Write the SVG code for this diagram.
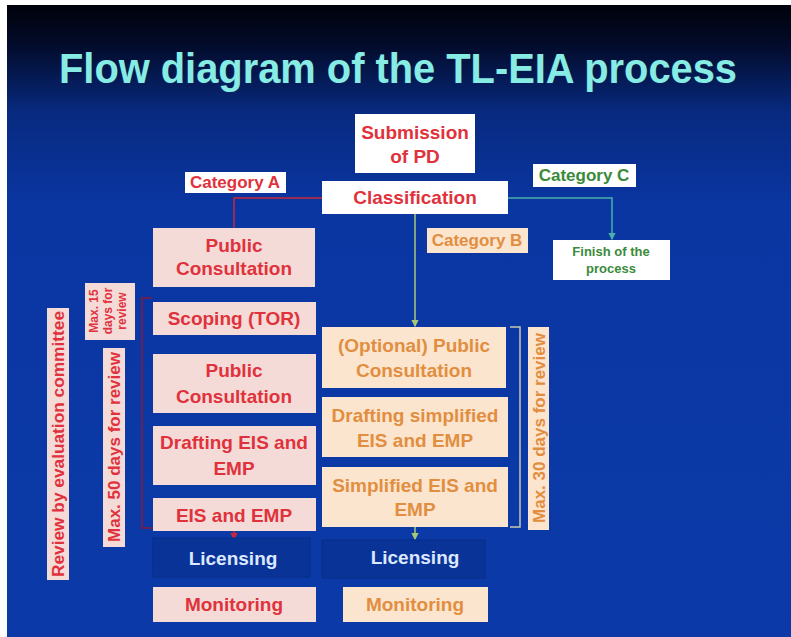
<svg xmlns="http://www.w3.org/2000/svg" width="791" height="637" viewBox="0 0 791 637">
  <defs>
    <linearGradient id="bg" x1="0" y1="0" x2="0" y2="1">
      <stop offset="0" stop-color="#00020a"/>
      <stop offset="0.06" stop-color="#020a28"/>
      <stop offset="0.17" stop-color="#082a80"/>
      <stop offset="0.32" stop-color="#0a36a2"/>
      <stop offset="1" stop-color="#0b3aa8"/>
    </linearGradient>
    <marker id="arrRed" viewBox="0 0 6 6" refX="5" refY="3" markerWidth="5" markerHeight="5" orient="auto">
      <path d="M0,0 L6,3 L0,6 z" fill="#c8283a"/>
    </marker>
    <marker id="arrTeal" viewBox="0 0 6 6" refX="5" refY="3" markerWidth="5" markerHeight="5" orient="auto">
      <path d="M0,0 L6,3 L0,6 z" fill="#48b0a8"/>
    </marker>
    <marker id="arrGreen" viewBox="0 0 6 6" refX="5" refY="3" markerWidth="5" markerHeight="5" orient="auto">
      <path d="M0,0 L6,3 L0,6 z" fill="#a8c878"/>
    </marker>
  </defs>
  <style>
    text { font-family: "Liberation Sans", Arial, sans-serif; font-weight: bold; text-anchor: middle; }
    .title { font-size: 43px; fill: #86ece4; }
    .white { fill: #ffffff; }
    .pink { fill: #f4dbd8; }
    .cream { fill: #fbe5cf; }
    .dark { fill: #0a3398; stroke: #092d86; stroke-width: 1; }
    .red { fill: #e0323c; font-size: 19px; }
    .orange { fill: #e28e40; font-size: 19px; }
    .green { fill: #3a8a3a; }
    .lic { fill: #dce8ff; font-size: 19px; }
    .lab { font-size: 17px; }
    .vert { font-size: 17px; }
    .small { font-size: 12px; }
    .conn { fill: none; stroke-width: 1.5; }
  </style>

  <!-- page frame and background -->
  <rect x="0" y="0" width="791" height="637" fill="#ffffff"/>
  <rect x="7" y="5" width="784" height="632" fill="url(#bg)"/>

  <text class="title" x="398" y="83" textLength="678" lengthAdjust="spacingAndGlyphs">Flow diagram of the TL-EIA process</text>

  <!-- connectors -->
  <g id="connectors">
    <path class="conn" d="M322,198 H234 V228" stroke="#c8283a"/>
    <path class="conn" d="M508,198 H612 V239" stroke="#48b0a8" marker-end="url(#arrTeal)"/>
    <path class="conn" d="M415,214 V326" stroke="#a8c878" marker-end="url(#arrGreen)"/>
    <path class="conn" d="M234,531 V539" stroke="#c8283a" marker-end="url(#arrRed)"/>
    <path class="conn" d="M415,527 V539" stroke="#a8c878" marker-end="url(#arrGreen)"/>
    <!-- review brackets -->
    <path class="conn" d="M152,298 H142 V528 H152" stroke="#8a1a3c"/>
    <path class="conn" d="M510,327 H520 V527 H510" stroke="#c8c8b0"/>
  </g>

  <g id="submission">
    <rect class="white" x="355" y="114" width="120" height="59"/>
    <text class="red" x="415" y="139" font-size="18">Submission</text>
    <text class="red" x="415" y="163" font-size="18">of PD</text>
  </g>

  <g id="category-a">
    <rect class="white" x="185" y="172" width="101" height="21"/>
    <text class="red lab" x="235" y="188">Category A</text>
  </g>

  <g id="classification">
    <rect class="white" x="322" y="181" width="186" height="33"/>
    <text class="red" x="415" y="204">Classification</text>
  </g>

  <g id="category-c">
    <rect class="white" x="533" y="164" width="103" height="23"/>
    <text class="green lab" x="584" y="181">Category C</text>
  </g>

  <g id="category-b">
    <rect class="cream" x="427" y="228" width="101" height="25"/>
    <text class="orange lab" x="477" y="246">Category B</text>
  </g>

  <g id="finish">
    <rect class="white" x="553" y="240" width="117" height="40"/>
    <text class="green" x="611" y="256" font-size="13">Finish of the</text>
    <text class="green" x="611" y="273" font-size="13">process</text>
  </g>

  <!-- Category A track -->
  <g id="a-public-consultation">
    <rect class="pink" x="153" y="228" width="162" height="59"/>
    <text class="red" x="234" y="252">Public</text>
    <text class="red" x="234" y="275">Consultation</text>
  </g>

  <g id="a-scoping">
    <rect class="pink" x="153" y="302" width="163" height="33"/>
    <text class="red" x="234" y="325">Scoping (TOR)</text>
  </g>

  <g id="a-public-consultation-2">
    <rect class="pink" x="153" y="354" width="163" height="59"/>
    <text class="red" x="234" y="377">Public</text>
    <text class="red" x="234" y="403">Consultation</text>
  </g>

  <g id="a-drafting">
    <rect class="pink" x="153" y="426" width="163" height="59"/>
    <text class="red" x="234" y="449">Drafting EIS and</text>
    <text class="red" x="234" y="475">EMP</text>
  </g>

  <g id="a-eis-emp">
    <rect class="pink" x="153" y="498" width="163" height="33"/>
    <text class="red" x="234" y="522">EIS and EMP</text>
  </g>

  <g id="a-licensing">
    <rect class="dark" x="153" y="538" width="157" height="39"/>
    <text class="lic" x="233" y="565">Licensing</text>
  </g>

  <g id="a-monitoring">
    <rect class="pink" x="153" y="587" width="163" height="35"/>
    <text class="red" x="234" y="611">Monitoring</text>
  </g>

  <!-- Category B track -->
  <g id="b-public-consultation">
    <rect class="cream" x="322" y="327" width="184" height="61"/>
    <text class="orange" x="414" y="352">(Optional) Public</text>
    <text class="orange" x="414" y="377">Consultation</text>
  </g>

  <g id="b-drafting">
    <rect class="cream" x="322" y="397" width="186" height="60"/>
    <text class="orange" x="415" y="422">Drafting simplified</text>
    <text class="orange" x="415" y="447">EIS and EMP</text>
  </g>

  <g id="b-simplified">
    <rect class="cream" x="322" y="467" width="186" height="60"/>
    <text class="orange" x="415" y="492">Simplified EIS and</text>
    <text class="orange" x="415" y="516">EMP</text>
  </g>

  <g id="b-licensing">
    <rect class="dark" x="322" y="540" width="163" height="38"/>
    <text class="lic" x="415" y="564">Licensing</text>
  </g>

  <g id="b-monitoring">
    <rect class="cream" x="343" y="587" width="145" height="35"/>
    <text class="orange" x="415" y="611">Monitoring</text>
  </g>

  <!-- review period labels -->
  <g id="review-committee">
    <rect class="pink" x="47" y="308" width="22" height="272"/>
    <text class="red vert" transform="translate(58,444) rotate(-90)" x="0" y="6" textLength="266" lengthAdjust="spacingAndGlyphs">Review by evaluation committee</text>
  </g>

  <g id="max-15">
    <rect class="pink" x="85" y="283" width="50" height="57"/>
    <g transform="translate(110,311) rotate(-90)">
      <text class="red small" x="0" y="-12">Max. 15</text>
      <text class="red small" x="0" y="2">days for</text>
      <text class="red small" x="0" y="16">review</text>
    </g>
  </g>

  <g id="max-50">
    <rect class="pink" x="103" y="348" width="22" height="199"/>
    <text class="red vert" transform="translate(114,447) rotate(-90)" x="0" y="6">Max. 50 days for review</text>
  </g>

  <g id="max-30">
    <rect class="cream" x="528" y="327" width="21" height="203"/>
    <text class="orange vert" transform="translate(538.5,428) rotate(-90)" x="0" y="6">Max. 30 days for review</text>
  </g>
</svg>
